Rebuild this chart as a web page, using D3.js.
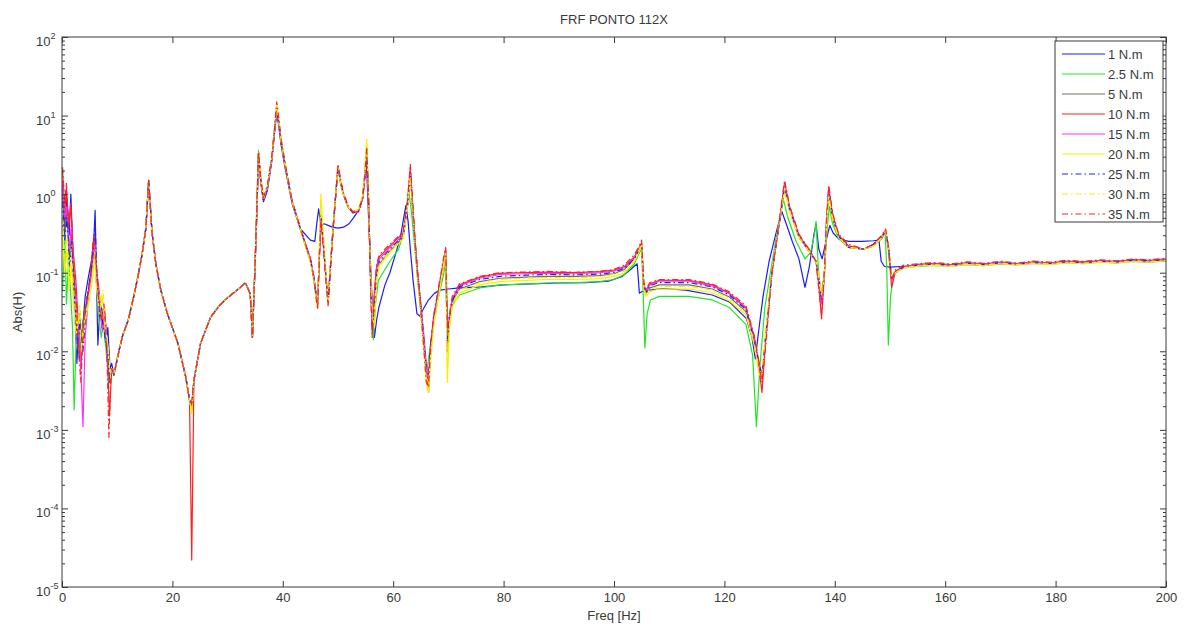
<!DOCTYPE html>
<html>
<head>
<meta charset="utf-8">
<script src="https://cdn.jsdelivr.net/npm/d3@7"></script>
<style>
  html, body { margin: 0; padding: 0; background: #fff; }
  svg { display: block; font-family: "Liberation Sans", Arial, sans-serif; }
</style>
</head>
<body>
<svg id="chart" width="1184" height="628"></svg>
<script>
// ---- axis ticks ----
const xTicks = [0, 20, 40, 60, 80, 100, 120, 140, 160, 180, 200];
const yExponents = [-5, -4, -3, -2, -1, 0, 1, 2];

// ---- legend entries ----
const torqueLabels = ["1 N.m", "2.5 N.m", "5 N.m", "10 N.m", "15 N.m", "20 N.m", "25 N.m", "30 N.m", "35 N.m"];

// ---- low-frequency part of each measurement, [Hz, |H|] ----
const low1 = [[0.1,1.3],[0.5,0.4],[0.9,0.9],[1.3,0.3],[1.6,1.0],[1.9,0.25],[2.3,0.04],[2.7,0.007],[3.1,0.03],[3.6,0.015],[4.2,0.05],[4.8,0.09],[5.4,0.15],[5.8,0.3],[6.0,0.62],[6.2,0.12],[6.5,0.012],[6.9,0.04],[7.4,0.03],[7.9,0.012],[8.3,0.02],[8.7,0.006],[9.0,0.007]];
const low2_5 = [[0.1,0.06],[0.5,0.3],[0.8,0.04],[1.2,0.15],[1.6,0.05],[1.9,0.02],[2.2,0.0018],[2.5,0.01],[3.0,0.02],[3.5,0.012],[4.1,0.03],[4.7,0.05],[5.3,0.09],[5.8,0.2],[6.2,0.08],[6.6,0.03],[7.1,0.015],[7.6,0.025],[8.1,0.008],[8.6,0.004],[9.0,0.006]];
const low5 = [[0.1,1.0],[0.5,0.3],[0.9,0.6],[1.3,0.15],[1.7,0.3],[2.1,0.06],[2.6,0.02],[3.1,0.008],[3.6,0.02],[4.2,0.035],[4.8,0.06],[5.4,0.12],[5.9,0.28],[6.3,0.1],[6.8,0.04],[7.3,0.02],[7.8,0.03],[8.3,0.008],[8.7,0.004],[9.0,0.006]];
const low10 = [[0.1,2.0],[0.5,0.6],[0.8,1.2],[1.2,0.4],[1.6,0.7],[2.0,0.2],[2.5,0.08],[3.0,0.02],[3.4,0.006],[3.9,0.02],[4.5,0.04],[5.2,0.1],[5.8,0.3],[6.2,0.12],[6.7,0.06],[7.2,0.02],[7.7,0.035],[8.2,0.01],[8.6,0.0015],[9.0,0.006]];
const low15 = [[0.1,1.5],[0.5,0.5],[0.9,0.7],[1.3,0.2],[1.7,0.4],[2.2,0.1],[2.7,0.03],[3.3,0.01],[3.8,0.0011],[4.2,0.015],[4.8,0.05],[5.4,0.11],[5.9,0.25],[6.3,0.09],[6.8,0.05],[7.3,0.018],[7.8,0.03],[8.3,0.007],[8.7,0.005],[9.0,0.006]];
const low20 = [[0.1,0.3],[0.5,0.1],[0.9,0.2],[1.3,0.06],[1.7,0.12],[2.1,0.04],[2.6,0.015],[3.1,0.03],[3.6,0.01],[4.2,0.025],[4.8,0.04],[5.4,0.07],[5.9,0.15],[6.3,0.06],[6.8,0.03],[7.3,0.05],[7.8,0.02],[8.3,0.012],[8.7,0.005],[9.0,0.006]];
const low25 = [[0.1,0.8],[0.5,0.25],[0.9,0.5],[1.4,0.12],[1.8,0.25],[2.3,0.05],[2.8,0.012],[3.3,0.025],[3.8,0.01],[4.3,0.03],[4.9,0.07],[5.5,0.14],[6.0,0.45],[6.3,0.1],[6.8,0.03],[7.3,0.025],[7.8,0.015],[8.3,0.009],[8.7,0.004],[9.0,0.006]];
const low30 = [[0.1,0.5],[0.5,0.15],[0.9,0.3],[1.3,0.08],[1.7,0.18],[2.2,0.05],[2.7,0.02],[3.2,0.04],[3.7,0.015],[4.3,0.03],[4.9,0.05],[5.5,0.09],[6.0,0.2],[6.4,0.07],[6.9,0.04],[7.4,0.06],[7.9,0.02],[8.4,0.01],[8.8,0.0045],[9.0,0.006]];
const low35 = [[0.1,2.2],[0.5,0.8],[0.8,1.4],[1.2,0.35],[1.6,0.8],[2.0,0.15],[2.5,0.05],[2.9,0.015],[3.4,0.004],[3.9,0.02],[4.5,0.05],[5.1,0.08],[5.7,0.28],[6.1,0.15],[6.6,0.05],[7.1,0.025],[7.6,0.04],[8.1,0.012],[8.5,0.0008],[8.8,0.004],[9.0,0.006]];

// ---- band shared by all torques: 16 Hz mode and the 23.5 Hz antiresonance ----
const bandRise = [[9.4,0.005],[10.3,0.01],[11,0.016],[12,0.025],[13,0.05],[13.7,0.086],[14.5,0.17],[15.2,0.37],[15.7,1.5],[16.3,0.33],[17,0.13],[17.9,0.06],[19.1,0.03],[20,0.02],[21,0.0126],[22.4,0.0048],[23.1,0.0024]];
const notchHz = 23.5;
const notchDepth = [0.0018, 0.0022, 0.002, 0.000022, 0.0019, 0.0016, 0.002, 0.0017, 0.0021];
const bandFall = [[23.9,0.0043],[25.1,0.0126],[26.9,0.027],[28.5,0.038],[30,0.048],[32.3,0.065],[33.2,0.075],[34.1,0.054],[34.5,0.015]];

// ---- 1 N.m and 2.5 N.m above 35 Hz, [Hz, |H|] ----
const high1 = [[35,0.13],[35.3,0.55],[35.6,3.0],[36,1.4],[36.5,0.8],[37.2,1.1],[38,2.6],[38.5,6],[38.9,11],[39.3,7],[39.7,4.2],[40.5,2.0],[41.7,0.75],[43.2,0.36],[44.2,0.3],[45,0.26],[45.8,0.25],[46.2,0.45],[46.5,0.65],[46.9,0.4],[47.5,0.42],[48.2,0.4],[49,0.38],[50,0.37],[51,0.38],[52,0.42],[52.8,0.5],[53.7,0.62],[54.4,0.85],[54.8,1.6],[55.1,3.0],[55.4,0.9],[55.7,0.25],[56.1,0.06],[56.6,0.015],[57.0,0.025],[57.4,0.036],[58.5,0.07],[59.4,0.1],[60.5,0.18],[61.3,0.28],[61.9,0.5],[62.3,0.72],[62.7,0.45],[63.1,0.2],[63.6,0.08],[64.3,0.03],[64.8,0.028],[65.3,0.033],[66.3,0.044],[67.5,0.055],[68.5,0.06],[70,0.062],[72,0.064],[76,0.066],[80,0.07],[85,0.072],[90,0.074],[95,0.075],[99,0.078],[101.5,0.09],[103,0.11],[104.2,0.13],[104.6,0.055],[105.2,0.058],[106.5,0.06],[108.8,0.063],[113,0.06],[117.8,0.052],[121,0.042],[124,0.026],[125,0.015],[125.6,0.008],[126.2,0.018],[127,0.05],[128.1,0.14],[129.5,0.35],[130.4,0.6],[131.2,0.42],[132.3,0.25],[133.5,0.15],[134.6,0.065],[135.4,0.12],[136.2,0.3],[136.6,0.42],[137.1,0.2],[137.7,0.15],[138.4,0.25],[139.1,0.4],[139.7,0.32],[140.7,0.27],[142.5,0.25],[145,0.25],[147,0.255],[148,0.26],[148.4,0.14],[149,0.12],[150,0.118],[152,0.12],[155,0.122],[158,0.126],[161,0.123],[164,0.129],[167,0.125],[170,0.131],[173,0.127],[176,0.133],[179,0.13],[182,0.136],[185,0.132],[188,0.137],[191,0.134],[194,0.14],[197,0.137],[200,0.142]];
const high2_5 = [[35,0.15],[35.3,0.8],[35.6,3.6],[36,1.6],[36.5,0.9],[37.2,1.2],[38,2.8],[38.5,6.5],[38.9,12],[39.3,7.5],[39.7,4.4],[40.5,2.1],[41.7,0.8],[43.2,0.35],[44.2,0.21],[45,0.14],[45.6,0.085],[46,0.05],[46.3,0.04],[46.6,0.16],[46.9,0.55],[47.3,0.26],[47.8,0.09],[48.2,0.045],[48.6,0.12],[49.1,0.38],[49.6,1.0],[50,2.1],[50.5,1.3],[51,0.95],[51.8,0.68],[52.7,0.58],[53.7,0.62],[54.5,0.95],[54.9,2.0],[55.2,4.0],[55.5,1.0],[55.7,0.3],[56,0.07],[56.4,0.014],[56.8,0.04],[57.3,0.08],[58.5,0.11],[59.4,0.14],[61,0.2],[62,0.35],[62.6,0.8],[62.9,1.0],[63.3,0.6],[63.8,0.25],[64.4,0.09],[65,0.03],[65.5,0.012],[66,0.005],[66.4,0.008],[66.9,0.015],[67.5,0.03],[68.5,0.06],[69.2,0.1],[69.6,0.15],[69.9,0.012],[70.3,0.025],[70.8,0.04],[72,0.052],[75.7,0.064],[79.3,0.07],[84,0.072],[88,0.074],[93,0.075],[97.4,0.077],[100,0.082],[101.9,0.095],[103.7,0.13],[104.6,0.18],[105,0.2],[105.3,0.05],[105.6,0.011],[106,0.03],[106.6,0.045],[108.2,0.05],[113.6,0.05],[117.8,0.045],[120.9,0.036],[123.9,0.022],[125.1,0.009],[125.8,0.0011],[126.4,0.006],[127.3,0.035],[128.6,0.13],[129.9,0.45],[130.7,0.85],[131.5,0.5],[133,0.25],[134.6,0.15],[135.6,0.18],[136.3,0.3],[136.6,0.45],[137,0.12],[137.5,0.05],[138.1,0.1],[138.6,0.35],[139,0.7],[139.6,0.42],[140.7,0.27],[142.5,0.21],[145.3,0.2],[147,0.22],[148.5,0.27],[149.1,0.33],[149.4,0.12],[149.7,0.012],[150.1,0.05],[150.7,0.1],[152,0.115],[155,0.12],[158,0.124],[161,0.121],[164,0.127],[167,0.123],[170,0.129],[173,0.126],[176,0.131],[179,0.128],[182,0.134],[185,0.13],[188,0.136],[191,0.133],[194,0.139],[197,0.136],[200,0.141]];

// ---- 5 to 35 N.m above 35 Hz: one frequency grid, one |H| list per torque ----
const highHz = [35,35.3,35.6,36,36.5,37.2,38,38.5,38.9,39.3,
  39.7,40.5,41.7,43.2,44.2,45,45.6,46,46.3,46.6,
  46.9,47.3,47.8,48.2,48.6,49.1,49.6,50,50.5,51,
  51.8,52.7,53.7,54.5,54.9,55.2,55.5,55.7,55.9,56.2,
  56.6,57,57.5,59.4,61.8,62.6,63.1,63.5,63.9,64.4,
  65,65.5,66,66.4,66.8,67.3,68.5,69.1,69.5,69.8,
  70.2,70.7,72,75.7,79.3,84,88,93,97.4,100,
  101.9,103.7,104.6,105,105.4,105.8,106.5,108.2,113.6,117.8,
  120.9,123.9,125.4,126.3,126.8,127.5,128.6,129.9,130.9,131.8,
  133.5,135.3,136.6,137.1,137.6,138.1,138.5,138.9,139.6,140.7,
  142.5,145.3,147,148.5,149.2,149.7,150.3,151,152.5,155,
  158,161,164,167,170,173,176,179,182,185,
  188,191,194,197,200];
const high5 = [0.14,0.65,3.3,1.5,0.85,1.2,2.8,6.4,12.5,8,
  4.6,2.2,0.8,0.36,0.21,0.14,0.085,0.052,0.04,0.15,
  0.52,0.26,0.09,0.042,0.11,0.36,1.0,2.3,1.4,1.0,
  0.7,0.58,0.6,0.92,1.9,3.8,1.0,0.3,0.09,0.025,
  0.03,0.09,0.13,0.19,0.28,0.7,1.8,0.7,0.26,0.09,
  0.035,0.014,0.006,0.004,0.01,0.022,0.07,0.12,0.18,0.015,
  0.026,0.042,0.062,0.077,0.085,0.088,0.09,0.09,0.092,0.097,
  0.11,0.15,0.2,0.22,0.065,0.054,0.064,0.07,0.07,0.062,
  0.049,0.032,0.013,0.006,0.0045,0.016,0.1,0.4,1.2,0.62,
  0.28,0.19,0.14,0.09,0.05,0.09,0.4,1.05,0.5,0.28,
  0.21,0.2,0.22,0.28,0.34,0.22,0.09,0.1,0.117,0.124,
  0.128,0.123,0.131,0.126,0.133,0.128,0.134,0.13,0.137,0.133,
  0.139,0.136,0.143,0.14,0.146];
const high10 = [0.14,0.6,3.2,1.5,0.85,1.2,2.8,6.5,13,8,
  4.6,2.2,0.8,0.36,0.22,0.15,0.09,0.055,0.038,0.14,
  0.5,0.25,0.09,0.04,0.11,0.36,1.0,2.2,1.4,1.0,
  0.7,0.58,0.6,0.9,1.8,3.6,1.0,0.3,0.08,0.017,
  0.06,0.12,0.16,0.22,0.32,0.8,2.2,0.8,0.3,0.11,
  0.04,0.016,0.006,0.003,0.011,0.026,0.08,0.14,0.2,0.01,
  0.028,0.046,0.07,0.088,0.098,0.1,0.102,0.1,0.103,0.108,
  0.12,0.16,0.21,0.24,0.07,0.06,0.072,0.08,0.08,0.07,
  0.055,0.036,0.015,0.006,0.003,0.014,0.1,0.42,1.4,0.7,
  0.3,0.2,0.14,0.07,0.026,0.09,0.45,1.2,0.55,0.3,
  0.22,0.2,0.23,0.29,0.35,0.2,0.065,0.105,0.12,0.128,
  0.132,0.127,0.135,0.13,0.137,0.131,0.138,0.134,0.141,0.137,
  0.143,0.14,0.147,0.144,0.15];
const high15 = [0.14,0.6,3.3,1.5,0.85,1.2,2.8,6.3,12,7.8,
  4.5,2.2,0.8,0.36,0.22,0.15,0.09,0.055,0.04,0.15,
  0.5,0.25,0.09,0.045,0.11,0.36,1.0,2.3,1.4,1.0,
  0.7,0.58,0.6,0.9,1.8,3.5,1.0,0.3,0.09,0.02,
  0.05,0.11,0.15,0.21,0.3,0.75,2.0,0.75,0.28,0.1,
  0.04,0.018,0.007,0.0045,0.012,0.026,0.078,0.13,0.19,0.012,
  0.027,0.045,0.068,0.085,0.095,0.097,0.099,0.097,0.1,0.105,
  0.117,0.155,0.2,0.23,0.07,0.058,0.07,0.078,0.078,0.068,
  0.054,0.035,0.015,0.007,0.0045,0.016,0.1,0.4,1.3,0.68,
  0.29,0.19,0.14,0.08,0.04,0.09,0.42,1.1,0.52,0.29,
  0.21,0.2,0.23,0.28,0.34,0.22,0.08,0.1,0.118,0.126,
  0.13,0.125,0.133,0.128,0.135,0.129,0.136,0.132,0.139,0.135,
  0.141,0.138,0.145,0.142,0.148];
const high20 = [0.14,0.6,3.4,1.55,0.88,1.25,2.9,6.8,14,8.5,
  4.8,2.25,0.8,0.36,0.21,0.14,0.085,0.05,0.035,0.2,
  1.0,0.35,0.1,0.042,0.11,0.36,1.0,2.3,1.4,1.0,
  0.7,0.6,0.64,0.98,2.2,5.0,1.2,0.3,0.1,0.03,
  0.02,0.08,0.12,0.18,0.27,0.7,1.6,0.7,0.26,0.09,
  0.032,0.012,0.004,0.003,0.008,0.02,0.065,0.12,0.18,0.004,
  0.02,0.036,0.055,0.07,0.077,0.08,0.082,0.082,0.084,0.09,
  0.1,0.14,0.19,0.22,0.06,0.05,0.058,0.062,0.062,0.056,
  0.044,0.029,0.012,0.005,0.005,0.018,0.11,0.42,1.1,0.6,
  0.28,0.19,0.14,0.09,0.05,0.09,0.38,0.95,0.48,0.28,
  0.21,0.2,0.22,0.28,0.33,0.22,0.09,0.1,0.115,0.121,
  0.125,0.12,0.128,0.123,0.13,0.125,0.131,0.127,0.134,0.13,
  0.136,0.133,0.139,0.136,0.142];
const high25 = [0.14,0.62,3.3,1.5,0.85,1.2,2.8,6.3,12,7.8,
  4.5,2.2,0.8,0.36,0.22,0.15,0.09,0.055,0.04,0.15,
  0.55,0.26,0.09,0.042,0.11,0.36,1.0,2.3,1.4,1.0,
  0.7,0.58,0.6,0.9,1.8,3.6,1.0,0.3,0.085,0.02,
  0.04,0.1,0.14,0.2,0.29,0.72,1.9,0.72,0.27,0.1,
  0.038,0.015,0.006,0.005,0.012,0.025,0.075,0.13,0.19,0.013,
  0.027,0.044,0.066,0.082,0.09,0.093,0.095,0.094,0.096,0.101,
  0.114,0.15,0.2,0.23,0.068,0.057,0.068,0.075,0.075,0.066,
  0.052,0.034,0.014,0.007,0.005,0.016,0.1,0.4,1.25,0.65,
  0.29,0.19,0.14,0.085,0.045,0.09,0.42,1.1,0.5,0.29,
  0.21,0.2,0.23,0.28,0.34,0.22,0.085,0.1,0.118,0.125,
  0.129,0.124,0.132,0.127,0.134,0.128,0.135,0.131,0.138,0.134,
  0.14,0.137,0.144,0.141,0.147];
const high30 = [0.15,0.65,3.4,1.55,0.88,1.25,2.9,6.6,13,8.2,
  4.7,2.25,0.8,0.36,0.21,0.14,0.085,0.05,0.036,0.16,
  0.7,0.3,0.1,0.04,0.11,0.36,1.0,2.3,1.4,1.0,
  0.7,0.6,0.63,0.95,2.0,4.4,1.1,0.3,0.09,0.025,
  0.03,0.09,0.13,0.19,0.28,0.72,1.8,0.72,0.27,0.09,
  0.034,0.013,0.005,0.004,0.009,0.022,0.07,0.125,0.19,0.006,
  0.022,0.04,0.06,0.075,0.082,0.085,0.087,0.086,0.089,0.095,
  0.105,0.145,0.2,0.23,0.065,0.053,0.062,0.067,0.067,0.06,
  0.047,0.031,0.013,0.006,0.005,0.017,0.1,0.42,1.2,0.62,
  0.28,0.19,0.14,0.09,0.05,0.09,0.4,1.0,0.5,0.28,
  0.21,0.2,0.22,0.28,0.34,0.22,0.09,0.1,0.116,0.123,
  0.127,0.122,0.13,0.125,0.132,0.127,0.133,0.129,0.136,0.132,
  0.138,0.135,0.141,0.138,0.144];
const high35 = [0.15,0.7,3.5,1.6,0.9,1.3,3,7,15,9,
  5,2.3,0.82,0.37,0.22,0.15,0.09,0.05,0.034,0.13,
  0.48,0.24,0.085,0.038,0.1,0.34,1.0,2.4,1.5,1.05,
  0.72,0.6,0.62,0.92,1.9,3.8,1.1,0.3,0.06,0.015,
  0.05,0.13,0.17,0.23,0.33,0.85,2.4,0.85,0.3,0.1,
  0.035,0.012,0.004,0.0035,0.012,0.028,0.085,0.15,0.21,0.02,
  0.03,0.05,0.072,0.09,0.1,0.102,0.104,0.101,0.104,0.11,
  0.125,0.17,0.22,0.26,0.075,0.062,0.075,0.082,0.082,0.072,
  0.057,0.038,0.016,0.007,0.004,0.012,0.1,0.45,1.5,0.72,
  0.31,0.2,0.14,0.06,0.03,0.1,0.5,1.3,0.58,0.31,
  0.23,0.2,0.23,0.3,0.36,0.22,0.08,0.11,0.125,0.13,
  0.135,0.129,0.138,0.132,0.14,0.133,0.141,0.136,0.144,0.139,
  0.146,0.142,0.149,0.146,0.153];

// ---- assemble one [Hz, |H|] list per torque ----
const lowParts = [low1, low2_5, low5, low10, low15, low20, low25, low30, low35];
const highParts = [
  high1, high2_5,
  ...[high5, high10, high15, high20, high25, high30, high35].map(v => highHz.map((f, i) => [f, v[i]]))
];
const curves = torqueLabels.map((label, i) => ({
  label,
  points: [...lowParts[i], ...bandRise, [notchHz, notchDepth[i]], ...bandFall, ...highParts[i]]
}));

// ---- line styles (MATLAB-like colour/linestyle per torque) ----
const styles = [
  { color: "#1a1aff", dash: null, width: 1.2 },
  { color: "#22e622", dash: null, width: 1.2 },
  { color: "#6e6e5e", dash: null, width: 1.2 },
  { color: "#ff2020", dash: null, width: 1.2 },
  { color: "#ff30ff", dash: null, width: 1.2 },
  { color: "#f2f200", dash: null, width: 1.2 },
  { color: "#2020ff", dash: "6,3,1.5,3", width: 1.2 },
  { color: "#f2f200", dash: "6,3,1.5,3", width: 1.2 },
  { color: "#ff2020", dash: "6,3,1.5,3", width: 1.2 }
];

// ---- layout ----
const svg = d3.select("#chart");
const pLeft = 62, pRight = 1166, pTop = 37, pBottom = 587;
const x = d3.scaleLinear().domain([0, 200]).range([pLeft, pRight]);
const y = d3.scaleLog().domain([1e-5, 1e2]).range([pBottom, pTop]);
const axisColor = "#3a3a3a";
const textColor = "#3a3a3a";
const fontSize = 13;

svg.append("rect").attr("width", 1184).attr("height", 628).attr("fill", "#fff");

svg.append("defs").append("clipPath").attr("id", "plotClip")
  .append("rect").attr("x", pLeft).attr("y", pTop).attr("width", pRight - pLeft).attr("height", pBottom - pTop);

// curves
const line = d3.line().x(d => x(d[0])).y(d => y(d[1]));
const plot = svg.append("g").attr("clip-path", "url(#plotClip)");
curves.forEach((c, i) => {
  const s = styles[i];
  plot.append("path")
    .datum(c.points)
    .attr("d", line)
    .attr("fill", "none")
    .attr("stroke", s.color)
    .attr("stroke-width", s.width)
    .attr("stroke-linejoin", "round")
    .attr("stroke-dasharray", s.dash);
});

// axes: inward ticks on all four sides
const majorY = yExponents.map(e => Math.pow(10, e));
const minorY = [];
yExponents.slice(0, -1).forEach(e => { for (let k = 2; k <= 9; k++) minorY.push(k * Math.pow(10, e)); });

function styleAxis(g) {
  g.select(".domain").remove();
  g.selectAll(".tick line").attr("stroke", axisColor);
  g.selectAll(".tick text").attr("fill", textColor).attr("font-size", fontSize)
    .attr("font-family", "Liberation Sans, Arial, sans-serif");
}

svg.append("g").attr("transform", `translate(0,${pBottom})`)
  .call(d3.axisBottom(x).tickValues(xTicks).tickFormat(d3.format("d")).tickSizeInner(-6).tickSizeOuter(0).tickPadding(6))
  .call(styleAxis);
svg.append("g").attr("transform", `translate(0,${pTop})`)
  .call(d3.axisTop(x).tickValues(xTicks).tickFormat("").tickSizeInner(-6).tickSizeOuter(0))
  .call(styleAxis);
svg.append("g").attr("transform", `translate(${pLeft},0)`)
  .call(d3.axisLeft(y).tickValues(majorY).tickFormat("").tickSizeInner(-6).tickSizeOuter(0))
  .call(styleAxis);
svg.append("g").attr("transform", `translate(${pLeft},0)`)
  .call(d3.axisLeft(y).tickValues(minorY).tickFormat("").tickSizeInner(-3).tickSizeOuter(0))
  .call(styleAxis);
svg.append("g").attr("transform", `translate(${pRight},0)`)
  .call(d3.axisRight(y).tickValues(majorY).tickFormat("").tickSizeInner(-6).tickSizeOuter(0))
  .call(styleAxis);
svg.append("g").attr("transform", `translate(${pRight},0)`)
  .call(d3.axisRight(y).tickValues(minorY).tickFormat("").tickSizeInner(-3).tickSizeOuter(0))
  .call(styleAxis);

// y tick labels as 10 with a raised exponent
const yLab = svg.append("g").attr("font-size", fontSize).attr("fill", textColor);
yExponents.forEach(e => {
  const t = yLab.append("text")
    .attr("x", 36)
    .attr("y", y(Math.pow(10, e)) + 9);
  t.append("tspan").text("10");
  t.append("tspan").attr("dy", -7).attr("font-size", 9).text(String(e));
});

// plot frame
svg.append("rect")
  .attr("x", pLeft).attr("y", pTop).attr("width", pRight - pLeft).attr("height", pBottom - pTop)
  .attr("fill", "none").attr("stroke", axisColor).attr("stroke-width", 1);

// title and axis labels
svg.append("text").attr("x", (pLeft + pRight) / 2).attr("y", 24).attr("text-anchor", "middle")
  .attr("font-size", fontSize).attr("fill", textColor).text("FRF PONTO 112X");
svg.append("text").attr("x", (pLeft + pRight) / 2).attr("y", 620).attr("text-anchor", "middle")
  .attr("font-size", fontSize).attr("fill", textColor).text("Freq [Hz]");
svg.append("text").attr("transform", `translate(22,${(pTop + pBottom) / 2}) rotate(-90)`)
  .attr("text-anchor", "middle").attr("font-size", fontSize).attr("fill", textColor).text("Abs(H)");

// legend
const legX = 1055, legY = 41, legW = 108, rowH = 20, rowY0 = 54;
const legH = rowY0 - legY + rowH * (torqueLabels.length - 1) + 8;
const leg = svg.append("g");
leg.append("rect").attr("x", legX).attr("y", legY).attr("width", legW).attr("height", legH)
  .attr("fill", "#fff").attr("stroke", axisColor).attr("stroke-width", 1);
torqueLabels.forEach((lab, i) => {
  const s = styles[i];
  const yy = rowY0 + i * rowH;
  leg.append("line").attr("x1", legX + 7).attr("x2", legX + 50).attr("y1", yy).attr("y2", yy)
    .attr("stroke", s.color).attr("stroke-width", s.width).attr("stroke-dasharray", s.dash);
  leg.append("text").attr("x", legX + 53).attr("y", yy + 4.5).attr("font-size", fontSize)
    .attr("fill", textColor).text(lab);
});
</script>
</body>
</html>
